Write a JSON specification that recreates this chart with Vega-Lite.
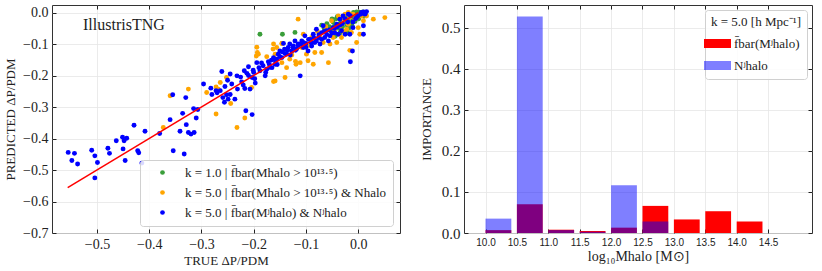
{
  "$schema": "https://vega.github.io/schema/vega-lite/v6.json",
  "padding": {"left": 4, "top": 4, "right": 0, "bottom": 0},
  "spacing": 18,
  "resolve": {"scale": {"color": "independent", "opacity": "independent"}, "legend": {"color": "independent", "opacity": "independent"}},
  "config": {
    "view": {"stroke": "#333", "strokeWidth": 1},
    "axis": {
      "domain": false, "gridColor": "#e6e6e6", "gridWidth": 0.8,
      "tickColor": "#222", "tickSize": -4, "labelPadding": 8,
      "labelFont": "Liberation Serif", "titleFont": "Liberation Serif",
      "labelFontSize": 14, "titleFontSize": 13, "labelColor": "#222", "titleColor": "#222",
      "titleFontWeight": "normal"
    },
    "legend": {"labelFont": "Liberation Serif", "titleFont": "Liberation Serif", "labelColor": "#222", "titleColor": "#222", "titleFontWeight": "normal", "labelLimit": 400}
  },
  "hconcat": [
    {
      "width": 348, "height": 228,
      "title": {"text": "IllustrisTNG", "anchor": "start", "frame": "group", "dx": 31, "dy": 41, "offset": 0, "baseline": "alphabetic", "font": "Liberation Serif", "fontSize": 16, "fontWeight": "normal", "color": "#222"},
      "resolve": {"axis": {"x": "independent", "y": "independent"}},
      "layer": [
        {
          "data": {"values": [
            {"x":-0.188,"y":-0.069,"s":"a"},{"x":-0.145,"y":-0.069,"s":"a"},{"x":-0.121,"y":-0.063,"s":"a"},{"x":-0.07,"y":-0.04,"s":"a"},
            {"x":-0.048,"y":-0.030,"s":"a"},{"x":-0.045,"y":-0.040,"s":"a"},{"x":-0.042,"y":-0.020,"s":"a"},{"x":-0.040,"y":-0.013,"s":"a"},
            {"x":-0.038,"y":-0.050,"s":"a"},{"x":-0.035,"y":-0.035,"s":"a"},{"x":-0.033,"y":-0.025,"s":"a"},{"x":-0.030,"y":-0.045,"s":"a"},
            {"x":-0.028,"y":-0.018,"s":"a"},{"x":-0.027,"y":-0.060,"s":"a"},{"x":-0.025,"y":-0.030,"s":"a"},{"x":-0.023,"y":-0.010,"s":"a"},
            {"x":-0.021,"y":-0.040,"s":"a"},{"x":-0.020,"y":-0.022,"s":"a"},{"x":-0.018,"y":-0.050,"s":"a"},{"x":-0.016,"y":-0.005,"s":"a"},
            {"x":-0.015,"y":-0.030,"s":"a"},{"x":-0.013,"y":-0.015,"s":"a"},{"x":-0.012,"y":-0.040,"s":"a"},{"x":-0.010,"y":-0.020,"s":"a"},
            {"x":-0.009,"y":0.000,"s":"a"},{"x":-0.008,"y":-0.010,"s":"a"},{"x":-0.006,"y":-0.028,"s":"a"},{"x":-0.005,"y":-0.005,"s":"a"},
            {"x":-0.004,"y":-0.015,"s":"a"},{"x":-0.003,"y":0.002,"s":"a"},{"x":-0.002,"y":-0.008,"s":"a"},{"x":0.000,"y":-0.004,"s":"a"},
            {"x":0.001,"y":-0.020,"s":"a"},{"x":0.002,"y":0.001,"s":"a"},{"x":0.004,"y":-0.010,"s":"a"},{"x":0.005,"y":-0.002,"s":"a"},
            {"x":0.007,"y":-0.008,"s":"a"},{"x":0.009,"y":0.002,"s":"a"},{"x":0.011,"y":-0.012,"s":"a"},{"x":0.014,"y":-0.004,"s":"a"},
            {"x":-0.055,"y":-0.045,"s":"a"},{"x":-0.060,"y":-0.035,"s":"a"},{"x":-0.065,"y":-0.050,"s":"a"},{"x":-0.035,"y":-0.065,"s":"a"},
            {"x":-0.052,"y":-0.060,"s":"a"},{"x":-0.044,"y":-0.075,"s":"a"},{"x":-0.050,"y":-0.020,"s":"a"},{"x":-0.020,"y":-0.065,"s":"a"},

            {"x":-0.360,"y":-0.264,"s":"b"},{"x":-0.373,"y":-0.365,"s":"b"},{"x":-0.325,"y":-0.243,"s":"b"},{"x":-0.290,"y":-0.254,"s":"b"},
            {"x":-0.272,"y":-0.236,"s":"b"},{"x":-0.272,"y":-0.322,"s":"b"},{"x":-0.268,"y":-0.243,"s":"b"},{"x":-0.264,"y":-0.222,"s":"b"},
            {"x":-0.244,"y":-0.289,"s":"b"},{"x":-0.232,"y":-0.365,"s":"b"},{"x":-0.217,"y":-0.335,"s":"b"},{"x":-0.252,"y":-0.206,"s":"b"},
            {"x":-0.204,"y":-0.238,"s":"b"},{"x":-0.194,"y":-0.110,"s":"b"},{"x":-0.193,"y":-0.127,"s":"b"},{"x":-0.195,"y":-0.138,"s":"b"},
            {"x":-0.191,"y":-0.132,"s":"b"},{"x":-0.162,"y":-0.100,"s":"b"},{"x":-0.163,"y":-0.116,"s":"b"},{"x":-0.159,"y":-0.132,"s":"b"},
            {"x":-0.156,"y":-0.111,"s":"b"},{"x":-0.146,"y":-0.098,"s":"b"},{"x":-0.146,"y":-0.159,"s":"b"},{"x":-0.140,"y":-0.206,"s":"b"},
            {"x":-0.159,"y":-0.217,"s":"b"},{"x":-0.162,"y":-0.219,"s":"b"},{"x":-0.137,"y":-0.175,"s":"b"},{"x":-0.131,"y":-0.148,"s":"b"},
            {"x":-0.119,"y":-0.164,"s":"b"},{"x":-0.111,"y":-0.159,"s":"b"},{"x":-0.108,"y":-0.111,"s":"b"},{"x":-0.105,"y":-0.069,"s":"b"},
            {"x":-0.115,"y":-0.021,"s":"b"},{"x":-0.099,"y":-0.132,"s":"b"},{"x":-0.096,"y":-0.153,"s":"b"},{"x":-0.089,"y":-0.079,"s":"b"},
            {"x":-0.086,"y":-0.164,"s":"b"},{"x":-0.083,"y":-0.127,"s":"b"},{"x":-0.073,"y":-0.079,"s":"b"},{"x":-0.070,"y":-0.127,"s":"b"},
            {"x":-0.067,"y":-0.095,"s":"b"},{"x":-0.057,"y":-0.159,"s":"b"},{"x":-0.054,"y":-0.100,"s":"b"},{"x":-0.051,"y":-0.026,"s":"b"},
            {"x":-0.048,"y":-0.079,"s":"b"},{"x":-0.045,"y":-0.053,"s":"b"},{"x":-0.041,"y":-0.095,"s":"b"},{"x":-0.038,"y":-0.011,"s":"b"},
            {"x":-0.035,"y":-0.042,"s":"b"},{"x":-0.032,"y":-0.079,"s":"b"},{"x":-0.029,"y":-0.026,"s":"b"},{"x":-0.025,"y":-0.005,"s":"b"},
            {"x":-0.022,"y":-0.053,"s":"b"},{"x":-0.019,"y":-0.037,"s":"b"},{"x":-0.016,"y":-0.120,"s":"b"},{"x":-0.013,"y":-0.063,"s":"b"},
            {"x":-0.010,"y":-0.005,"s":"b"},{"x":-0.006,"y":-0.021,"s":"b"},{"x":-0.003,"y":-0.095,"s":"b"},{"x":0.000,"y":-0.048,"s":"b"},
            {"x":0.003,"y":-0.069,"s":"b"},{"x":0.006,"y":-0.011,"s":"b"},{"x":0.016,"y":-0.011,"s":"b"},{"x":0.029,"y":-0.021,"s":"b"},
            {"x":0.051,"y":-0.016,"s":"b"},{"x":0.010,"y":-0.026,"s":"b"},{"x":-0.019,"y":0.000,"s":"b"},{"x":-0.016,"y":-0.014,"s":"b"},
            {"x":-0.146,"y":-0.098,"s":"b"},{"x":-0.120,"y":-0.155,"s":"b"},{"x":-0.078,"y":-0.060,"s":"b"},{"x":-0.062,"y":-0.045,"s":"b"},
            {"x":-0.092,"y":-0.105,"s":"b"},{"x":-0.127,"y":-0.135,"s":"b"},{"x":-0.175,"y":-0.140,"s":"b"},{"x":-0.028,"y":-0.060,"s":"b"},

            {"x":-0.555,"y":-0.444,"s":"c"},{"x":-0.548,"y":-0.470,"s":"c"},{"x":-0.543,"y":-0.447,"s":"c"},{"x":-0.537,"y":-0.481,"s":"c"},
            {"x":-0.510,"y":-0.437,"s":"c"},{"x":-0.504,"y":-0.455,"s":"c"},{"x":-0.499,"y":-0.476,"s":"c"},{"x":-0.504,"y":-0.525,"s":"c"},
            {"x":-0.479,"y":-0.431,"s":"c"},{"x":-0.476,"y":-0.447,"s":"c"},{"x":-0.463,"y":-0.407,"s":"c"},{"x":-0.451,"y":-0.396,"s":"c"},
            {"x":-0.448,"y":-0.407,"s":"c"},{"x":-0.443,"y":-0.399,"s":"c"},{"x":-0.450,"y":-0.433,"s":"c"},{"x":-0.446,"y":-0.470,"s":"c"},
            {"x":-0.429,"y":-0.358,"s":"c"},{"x":-0.422,"y":-0.439,"s":"c"},{"x":-0.420,"y":-0.445,"s":"c"},{"x":-0.408,"y":-0.377,"s":"c"},
            {"x":-0.414,"y":-0.478,"s":"c"},{"x":-0.380,"y":-0.384,"s":"c"},{"x":-0.360,"y":-0.340,"s":"c"},{"x":-0.355,"y":-0.261,"s":"c"},
            {"x":-0.354,"y":-0.439,"s":"c"},{"x":-0.341,"y":-0.377,"s":"c"},{"x":-0.336,"y":-0.320,"s":"c"},{"x":-0.333,"y":-0.449,"s":"c"},
            {"x":-0.329,"y":-0.356,"s":"c"},{"x":-0.330,"y":-0.270,"s":"c"},{"x":-0.325,"y":-0.381,"s":"c"},{"x":-0.320,"y":-0.386,"s":"c"},
            {"x":-0.314,"y":-0.381,"s":"c"},{"x":-0.315,"y":-0.305,"s":"c"},{"x":-0.310,"y":-0.335,"s":"c"},{"x":-0.307,"y":-0.308,"s":"c"},
            {"x":-0.296,"y":-0.227,"s":"c"},{"x":-0.282,"y":-0.240,"s":"c"},{"x":-0.272,"y":-0.248,"s":"c"},{"x":-0.261,"y":-0.187,"s":"c"},
            {"x":-0.264,"y":-0.248,"s":"c"},{"x":-0.259,"y":-0.270,"s":"c"},{"x":-0.256,"y":-0.285,"s":"c"},{"x":-0.252,"y":-0.261,"s":"c"},
            {"x":-0.249,"y":-0.275,"s":"c"},{"x":-0.245,"y":-0.195,"s":"c"},{"x":-0.242,"y":-0.227,"s":"c"},{"x":-0.236,"y":-0.275,"s":"c"},
            {"x":-0.232,"y":-0.201,"s":"c"},{"x":-0.231,"y":-0.243,"s":"c"},{"x":-0.215,"y":-0.312,"s":"c"},{"x":-0.203,"y":-0.324,"s":"c"},
            {"x":-0.223,"y":-0.220,"s":"c"},{"x":-0.218,"y":-0.185,"s":"c"},{"x":-0.217,"y":-0.241,"s":"c"},{"x":-0.213,"y":-0.193,"s":"c"},
            {"x":-0.210,"y":-0.172,"s":"c"},{"x":-0.207,"y":-0.243,"s":"c"},{"x":-0.203,"y":-0.206,"s":"c"},{"x":-0.201,"y":-0.183,"s":"c"},
            {"x":-0.197,"y":-0.224,"s":"c"},{"x":-0.194,"y":-0.159,"s":"c"},{"x":-0.188,"y":-0.185,"s":"c"},{"x":-0.182,"y":-0.169,"s":"c"},
            {"x":-0.178,"y":-0.201,"s":"c"},{"x":-0.175,"y":-0.180,"s":"c"},{"x":-0.172,"y":-0.156,"s":"c"},{"x":-0.169,"y":-0.174,"s":"c"},
            {"x":-0.166,"y":-0.151,"s":"c"},{"x":-0.162,"y":-0.143,"s":"c"},{"x":-0.159,"y":-0.164,"s":"c"},{"x":-0.156,"y":-0.148,"s":"c"},
            {"x":-0.153,"y":-0.132,"s":"c"},{"x":-0.150,"y":-0.122,"s":"c"},{"x":-0.146,"y":-0.143,"s":"c"},{"x":-0.143,"y":-0.098,"s":"c"},
            {"x":-0.141,"y":-0.116,"s":"c"},{"x":-0.137,"y":-0.132,"s":"c"},{"x":-0.134,"y":-0.111,"s":"c"},{"x":-0.131,"y":-0.100,"s":"c"},
            {"x":-0.127,"y":-0.122,"s":"c"},{"x":-0.124,"y":-0.106,"s":"c"},{"x":-0.121,"y":-0.090,"s":"c"},{"x":-0.118,"y":-0.116,"s":"c"},
            {"x":-0.115,"y":-0.100,"s":"c"},{"x":-0.111,"y":-0.201,"s":"c"},{"x":-0.108,"y":-0.090,"s":"c"},{"x":-0.105,"y":-0.111,"s":"c"},
            {"x":-0.102,"y":-0.074,"s":"c"},{"x":-0.100,"y":-0.098,"s":"c"},{"x":-0.096,"y":-0.122,"s":"c"},{"x":-0.092,"y":-0.085,"s":"c"},
            {"x":-0.089,"y":-0.106,"s":"c"},{"x":-0.086,"y":-0.069,"s":"c"},{"x":-0.083,"y":-0.095,"s":"c"},{"x":-0.080,"y":-0.053,"s":"c"},
            {"x":-0.076,"y":-0.079,"s":"c"},{"x":-0.073,"y":-0.100,"s":"c"},{"x":-0.070,"y":-0.064,"s":"c"},{"x":-0.067,"y":-0.042,"s":"c"},
            {"x":-0.064,"y":-0.079,"s":"c"},{"x":-0.061,"y":-0.058,"s":"c"},{"x":-0.057,"y":-0.090,"s":"c"},{"x":-0.054,"y":-0.074,"s":"c"},
            {"x":-0.048,"y":-0.048,"s":"c"},{"x":-0.045,"y":-0.064,"s":"c"},{"x":-0.041,"y":-0.037,"s":"c"},{"x":-0.038,"y":-0.069,"s":"c"},
            {"x":-0.035,"y":-0.021,"s":"c"},{"x":-0.032,"y":-0.058,"s":"c"},{"x":-0.029,"y":-0.011,"s":"c"},{"x":-0.025,"y":-0.069,"s":"c"},
            {"x":-0.019,"y":-0.005,"s":"c"},{"x":-0.016,"y":-0.069,"s":"c"},{"x":-0.011,"y":-0.122,"s":"c"},{"x":-0.015,"y":-0.156,"s":"c"},
            {"x":-0.010,"y":-0.048,"s":"c"},{"x":-0.003,"y":-0.016,"s":"c"},{"x":0.010,"y":-0.042,"s":"c"},{"x":0.010,"y":-0.069,"s":"c"},
            {"x":0.013,"y":-0.005,"s":"c"},{"x":0.016,"y":0.003,"s":"c"},{"x":0.006,"y":0.000,"s":"c"},
            {"x":-0.190,"y":-0.175,"s":"c"},{"x":-0.185,"y":-0.160,"s":"c"},{"x":-0.177,"y":-0.190,"s":"c"},{"x":-0.170,"y":-0.165,"s":"c"},
            {"x":-0.165,"y":-0.175,"s":"c"},{"x":-0.160,"y":-0.150,"s":"c"},{"x":-0.155,"y":-0.165,"s":"c"},{"x":-0.150,"y":-0.140,"s":"c"},
            {"x":-0.145,"y":-0.125,"s":"c"},{"x":-0.140,"y":-0.130,"s":"c"},{"x":-0.135,"y":-0.120,"s":"c"},{"x":-0.130,"y":-0.135,"s":"c"},
            {"x":-0.125,"y":-0.110,"s":"c"},{"x":-0.120,"y":-0.120,"s":"c"},{"x":-0.115,"y":-0.105,"s":"c"},{"x":-0.110,"y":-0.100,"s":"c"},
            {"x":-0.105,"y":-0.095,"s":"c"},{"x":-0.100,"y":-0.110,"s":"c"},{"x":-0.095,"y":-0.085,"s":"c"},{"x":-0.090,"y":-0.095,"s":"c"},
            {"x":-0.085,"y":-0.080,"s":"c"},{"x":-0.080,"y":-0.090,"s":"c"},{"x":-0.075,"y":-0.070,"s":"c"},{"x":-0.070,"y":-0.085,"s":"c"},
            {"x":-0.065,"y":-0.060,"s":"c"},{"x":-0.060,"y":-0.070,"s":"c"},{"x":-0.055,"y":-0.055,"s":"c"},{"x":-0.050,"y":-0.065,"s":"c"},
            {"x":-0.045,"y":-0.050,"s":"c"},{"x":-0.040,"y":-0.045,"s":"c"},{"x":-0.035,"y":-0.040,"s":"c"},{"x":-0.030,"y":-0.035,"s":"c"},
            {"x":-0.025,"y":-0.020,"s":"c"},{"x":-0.020,"y":-0.030,"s":"c"},{"x":-0.015,"y":-0.010,"s":"c"},{"x":-0.010,"y":-0.030,"s":"c"},
            {"x":-0.005,"y":-0.020,"s":"c"},{"x":0.000,"y":-0.010,"s":"c"},{"x":0.005,"y":-0.005,"s":"c"},{"x":0.010,"y":0.002,"s":"c"},
            {"x":-0.280,"y":-0.260,"s":"c"},{"x":-0.270,"y":-0.255,"s":"c"},{"x":-0.255,"y":-0.235,"s":"c"},{"x":-0.250,"y":-0.215,"s":"c"},
            {"x":-0.245,"y":-0.260,"s":"c"},{"x":-0.225,"y":-0.205,"s":"c"},{"x":-0.220,"y":-0.230,"s":"c"},{"x":-0.210,"y":-0.200,"s":"c"},
            {"x":-0.200,"y":-0.190,"s":"c"},{"x":-0.198,"y":-0.210,"s":"c"}
          ]},
          "mark": {"type": "circle", "size": 24, "opacity": 1},
          "encoding": {
            "x": {"field": "x", "type": "quantitative", "scale": {"domain": [-0.586, 0.08], "nice": false, "zero": false},
                  "axis": {"values": [-0.5, -0.4, -0.3, -0.2, -0.1, 0.0], "format": ".1f", "title": "TRUE ΔP/PDM", "titlePadding": 3}},
            "y": {"field": "y", "type": "quantitative", "scale": {"domain": [-0.7, 0.024], "nice": false, "zero": false},
                  "axis": {"values": [-0.7, -0.6, -0.5, -0.4, -0.3, -0.2, -0.1, 0.0], "format": ".1f", "title": "PREDICTED ΔP/PDM", "titlePadding": 5}},
            "color": {"field": "s", "type": "nominal",
                      "scale": {"domain": ["a", "b", "c"], "range": ["#3a9e3a", "#ffa500", "#0000ff"]},
                      "legend": {"title": null, "orient": "bottom-right", "offset": 7,
                                 "labelExpr": "datum.value == 'a' ? 'k = 1.0 | f\u0304bar(Mhalo > 10\u00b9\u00b3\u00b7\u2075)' : datum.value == 'b' ? 'k = 5.0 | f\u0304bar(Mhalo > 10\u00b9\u00b3\u00b7\u2075) & Nhalo' : 'k = 5.0 | f\u0304bar(M\u02b2halo) & N\u02b2halo'",
                                 "labelFontSize": 13, "symbolType": "circle", "symbolSize": 22, "rowPadding": 6,
                                 "padding": 6, "symbolOffset": 10, "labelOffset": 16,
                                 "fillColor": "rgba(255,255,255,0.85)", "strokeColor": "#d0d0d0", "cornerRadius": 3}}
          }
        },
        {
          "data": {"values": [{"x": -0.556, "y": -0.556}, {"x": 0.0, "y": 0.0}]},
          "mark": {"type": "line", "color": "#ff0000", "strokeWidth": 1.5},
          "encoding": {
            "x": {"field": "x", "type": "quantitative", "axis": {"orient": "top", "values": [-0.5, -0.4, -0.3, -0.2, -0.1, 0.0], "labels": false, "grid": false, "title": null}},
            "y": {"field": "y", "type": "quantitative", "axis": {"orient": "right", "values": [-0.7, -0.6, -0.5, -0.4, -0.3, -0.2, -0.1, 0.0], "labels": false, "grid": false, "title": null}}
          }
        }
      ]
    },
    {
      "width": 348, "height": 228,
      "resolve": {"axis": {"x": "independent", "y": "independent"}},
      "data": {"values": [
        {"m": 10.0, "f": "F", "v": 0.007}, {"m": 10.5, "f": "F", "v": 0.070}, {"m": 11.0, "f": "F", "v": 0.008},
        {"m": 11.5, "f": "F", "v": 0.005}, {"m": 12.0, "f": "F", "v": 0.013}, {"m": 12.5, "f": "F", "v": 0.066},
        {"m": 13.0, "f": "F", "v": 0.033}, {"m": 13.5, "f": "F", "v": 0.053}, {"m": 14.0, "f": "F", "v": 0.028},
        {"m": 10.0, "f": "N", "v": 0.035}, {"m": 10.5, "f": "N", "v": 0.527}, {"m": 11.0, "f": "N", "v": 0.007},
        {"m": 11.5, "f": "N", "v": 0.003}, {"m": 12.0, "f": "N", "v": 0.116}, {"m": 12.5, "f": "N", "v": 0.028}
      ]},
      "layer": [
        {
          "mark": {"type": "bar", "width": 25.8, "xOffset": 12.9},
          "encoding": {
            "x": {"field": "m", "type": "quantitative", "scale": {"domain": [9.737, 15.12], "nice": false, "zero": false},
                  "axis": {"values": [10.0, 10.5, 11.0, 11.5, 12.0, 12.5, 13.0, 13.5, 14.0, 14.5], "format": ".1f",
                           "labelFont": "Liberation Sans", "labelFontSize": 10, "title": "log\u2081\u2080Mhalo [M\u2299]", "titleFontSize": 14, "titlePadding": 2}},
            "y": {"field": "v", "type": "quantitative", "stack": null, "scale": {"domain": [0, 0.555], "nice": false},
                  "axis": {"values": [0, 0.1, 0.2, 0.3, 0.4, 0.5], "format": ".1f", "labelFontSize": 15, "title": "IMPORTANCE", "titlePadding": 8}},
            "color": {"field": "f", "type": "nominal", "scale": {"domain": ["F", "N"], "range": ["#ff0000", "#0000ff"]},
                      "legend": {"title": "k = 5.0 [h Mpc\u207b\u00b9]", "titleFontSize": 13, "orient": "top-right", "offset": 5,
                                 "labelExpr": "datum.value == 'F' ? 'f\u0304bar(M\u02b2halo)' : 'N\u02b2halo'",
                                 "labelFontSize": 13, "symbolType": "M-3,-1H3V1H-3Z", "symbolSize": 81, "symbolStrokeWidth": 0,
                                 "rowPadding": 8, "padding": 6, "labelOffset": 10, "titlePadding": 8,
                                 "fillColor": "rgba(255,255,255,0.85)", "strokeColor": "#d0d0d0", "cornerRadius": 3}},
            "opacity": {"field": "f", "type": "nominal", "scale": {"domain": ["F", "N"], "range": [1, 0.5]},
                        "legend": {"title": "k = 5.0 [h Mpc\u207b\u00b9]"}}
          }
        },
        {
          "mark": {"type": "point", "opacity": 0},
          "encoding": {
            "x": {"field": "m", "type": "quantitative", "axis": {"orient": "top", "values": [10.0, 10.5, 11.0, 11.5, 12.0, 12.5, 13.0, 13.5, 14.0, 14.5], "labels": false, "grid": false, "title": null}},
            "y": {"field": "v", "type": "quantitative", "axis": {"orient": "right", "values": [0, 0.1, 0.2, 0.3, 0.4, 0.5], "labels": false, "grid": false, "title": null}}
          }
        }
      ]
    }
  ]
}
